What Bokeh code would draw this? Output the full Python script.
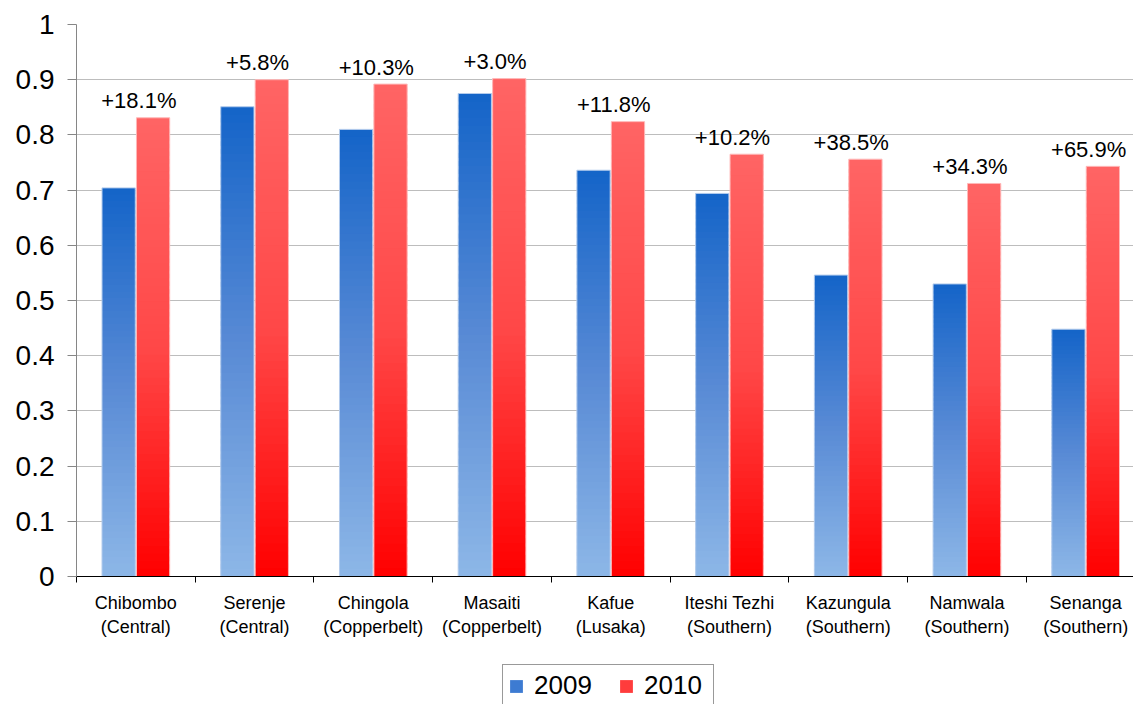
from bokeh.plotting import figure
from bokeh.layouts import column
from bokeh.models import (Range1d, FixedTicker, NumeralTickFormatter, Legend,
                          LegendItem, ColumnDataSource)
from bokeh.embed import file_html
from bokeh.resources import INLINE
from bokeh.core.properties import value

# ---------------- data ----------------
categories = ["Chibombo\n(Central)", "Serenje\n(Central)", "Chingola\n(Copperbelt)",
              "Masaiti\n(Copperbelt)", "Kafue\n(Lusaka)", "Iteshi Tezhi\n(Southern)",
              "Kazungula\n(Southern)", "Namwala\n(Southern)", "Senanga\n(Southern)"]
values_2009 = [0.704, 0.851, 0.810, 0.875, 0.736, 0.694, 0.546, 0.530, 0.448]
values_2010 = [0.831, 0.900, 0.892, 0.902, 0.824, 0.765, 0.756, 0.712, 0.743]
change_labels = ["+18.1%", "+5.8%", "+10.3%", "+3.0%", "+11.8%", "+10.2%",
                 "+38.5%", "+34.3%", "+65.9%"]
series_names = ["2009", "2010"]
y_ticks = [round(0.1 * i, 1) for i in range(11)]

FONT = "Liberation Sans"

# gradient stops (t=0 at top of bar, t=1 at bottom)
blue_stops = [(0.0, (20, 100, 200)), (0.5, (88, 138, 213)), (1.0, (141, 183, 231))]
red_stops = [(0.0, (255, 100, 100)), (0.5, (255, 72, 72)), (1.0, (255, 0, 0))]


def lerp(stops, t):
    for (t0, c0), (t1, c1) in zip(stops[:-1], stops[1:]):
        if t <= t1:
            f = (t - t0) / (t1 - t0)
            c = [round(a + (b - a) * f) for a, b in zip(c0, c1)]
            return "#%02x%02x%02x" % tuple(c)
    return "#%02x%02x%02x" % stops[-1][1]


N = 60
BW = 0.28
offsets = [0.355, 0.645]


def gradient_source(vals, off, stops):
    d = dict(left=[], right=[], bottom=[], top=[], color=[])
    for i, v in enumerate(vals):
        cx = i + off
        for k in range(N):
            b = v * k / N
            t = min(v, v * (k + 1.6) / N)
            d["left"].append(cx - BW / 2)
            d["right"].append(cx + BW / 2)
            d["bottom"].append(b)
            d["top"].append(t)
            d["color"].append(lerp(stops, 1 - (k + 0.5) / N))
    return ColumnDataSource(d)


p = figure(width=1133, height=664, x_range=Range1d(0, 8.903), y_range=Range1d(0, 1),
           output_backend="svg", toolbar_location=None,
           min_border_left=76, min_border_right=0, min_border_top=24,
           min_border_bottom=88)
p.outline_line_color = None
p.background_fill_color = "white"
p.border_fill_color = "white"

# grid
p.xgrid.visible = False
p.ygrid.ticker = FixedTicker(ticks=y_ticks)
p.ygrid.grid_line_color = "#bdbdbd"
p.ygrid.grid_line_width = 1

# bars with gradient
for vals, off, stops, edge in [(values_2009, offsets[0], blue_stops, "#b3cbec"),
                               (values_2010, offsets[1], red_stops, "#ffb8b8")]:
    src = gradient_source(vals, off, stops)
    p.quad(left="left", right="right", bottom="bottom", top="top", source=src,
           fill_color="color", line_color=None)
    outline = ColumnDataSource(dict(x=[i + off for i in range(len(vals))],
                                    top=vals))
    p.vbar(x="x", top="top", bottom=0, width=BW, source=outline,
           fill_color=None, line_color=edge, line_width=1)

# change labels
centers = [i + 0.5 for i in range(len(categories))]
p.text(x=centers, y=values_2010, text=change_labels, text_align="center",
       text_baseline="alphabetic", y_offset=-17, x_offset=3,
       text_font=value(FONT), text_font_size="22px", text_color="black")

# y axis
ya = p.yaxis[0]
ya.ticker = FixedTicker(ticks=y_ticks)
ya.formatter = NumeralTickFormatter(format="0.[0]")
ya.axis_line_color = "#868686"
ya.major_tick_line_color = "#868686"
ya.major_tick_in = 0
ya.major_tick_out = 9
ya.minor_tick_line_color = None
ya.major_label_text_font = FONT
ya.major_label_text_font_size = "28px"
ya.major_label_text_color = "black"
ya.major_label_standoff = 13

# x axis
xa = p.xaxis[0]
xa.ticker = FixedTicker(ticks=centers, minor_ticks=list(range(len(categories) + 1)))
xa.major_label_overrides = {c: lab for c, lab in zip(centers, categories)}
xa.axis_line_color = "black"
xa.axis_line_width = 1
xa.major_tick_line_color = None
xa.major_tick_in = 0
xa.major_tick_out = 0
xa.minor_tick_line_color = "black"
xa.minor_tick_in = 0
xa.minor_tick_out = 6
xa.major_label_text_font = FONT
xa.major_label_text_font_size = "18px"
xa.major_label_text_color = "black"
xa.major_label_text_line_height = 1.2
xa.major_label_standoff = 10

# ---------------- legend strip ----------------
pl = figure(width=1133, height=40, x_range=Range1d(0, 1), y_range=Range1d(0, 1),
            output_backend="svg", toolbar_location=None,
            min_border=0, min_border_left=0, min_border_right=0,
            min_border_top=0, min_border_bottom=0)
pl.axis.visible = False
pl.grid.visible = False
pl.outline_line_color = None
pl.background_fill_color = "white"
pl.border_fill_color = "white"

# swatch proxies (zero-size, only used by the legend)
sw_b = pl.quad(left=[0], right=[0], bottom=[0], top=[0], fill_color="#3d7bd2",
               line_color=None)
sw_r = pl.quad(left=[0], right=[0], bottom=[0], top=[0], fill_color="#ff3c3c",
               line_color=None)
legend = Legend(items=[LegendItem(label=series_names[0], renderers=[sw_b]),
                       LegendItem(label=series_names[1], renderers=[sw_r])],
                location=(426, -3), orientation="horizontal",
                label_text_font=FONT, label_text_font_size="26px",
                label_text_color="black", glyph_width=16, glyph_height=16,
                label_standoff=10, spacing=20, padding=5, margin=0,
                label_width=64,
                border_line_color="#333333", border_line_width=1,
                background_fill_color="white", background_fill_alpha=1)
pl.add_layout(legend, "center")

layout = column(p, pl, spacing=0)
open("out.html", "w").write(file_html(layout, INLINE))
